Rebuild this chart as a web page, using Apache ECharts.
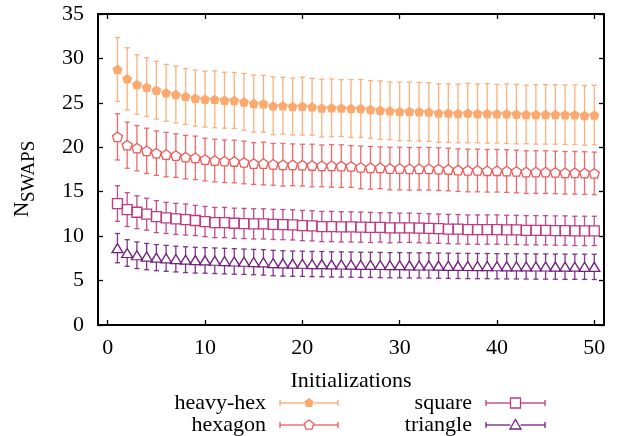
<!DOCTYPE html>
<html>
<head>
<meta charset="utf-8">
<script src="https://cdn.jsdelivr.net/npm/echarts@6/dist/echarts.min.js"></script>
<style>
  html, body { margin: 0; padding: 0; background: #fff; }
  #main { width: 624px; height: 436px; }
</style>
</head>
<body>
<div id="main"></div>
<script>
// 数据
var initializations = [1, 2, 3, 4, 5, 6, 7, 8, 9, 10, 11, 12, 13, 14, 15, 16, 17, 18, 19, 20,
  21, 22, 23, 24, 25, 26, 27, 28, 29, 30, 31, 32, 33, 34, 35, 36, 37, 38, 39, 40,
  41, 42, 43, 44, 45, 46, 47, 48, 49, 50];
var xTicks = [0, 10, 20, 30, 40, 50];

var heavyHex = [28.76, 27.70, 27.07, 26.77, 26.43, 26.13, 25.94, 25.72, 25.53, 25.42,
  25.40, 25.30, 25.27, 25.11, 24.93, 24.90, 24.66, 24.67, 24.59, 24.63,
  24.56, 24.41, 24.44, 24.41, 24.37, 24.37, 24.26, 24.18, 24.11, 24.03,
  24.03, 24.00, 23.96, 23.85, 23.85, 23.81, 23.85, 23.81, 23.81, 23.78,
  23.78, 23.74, 23.70, 23.70, 23.70, 23.70, 23.67, 23.67, 23.59, 23.63];
var heavyHexErr = [3.6, 3.5, 3.35, 3.3, 3.25, 3.2, 3.2, 3.15, 3.15, 3.15,
  3.2, 3.15, 3.15, 3.2, 3.2, 3.2, 3.25, 3.2, 3.2, 3.25,
  3.2, 3.25, 3.25, 3.2, 3.25, 3.25, 3.25, 3.3, 3.25, 3.3,
  3.3, 3.3, 3.3, 3.3, 3.3, 3.3, 3.35, 3.3, 3.35, 3.3,
  3.35, 3.35, 3.3, 3.35, 3.35, 3.35, 3.35, 3.35, 3.35, 3.35];

var hexagon = [21.17, 20.24, 19.90, 19.60, 19.34, 19.18, 19.07, 18.89, 18.81, 18.62,
  18.51, 18.43, 18.40, 18.29, 18.17, 18.17, 18.08, 18.03, 18.03, 17.99,
  17.95, 17.91, 17.91, 17.88, 17.84, 17.73, 17.69, 17.69, 17.61, 17.61,
  17.58, 17.58, 17.58, 17.54, 17.50, 17.43, 17.39, 17.39, 17.36, 17.36,
  17.32, 17.28, 17.21, 17.21, 17.21, 17.17, 17.13, 17.13, 17.10, 17.06];
var hexagonErr = [2.6, 2.6, 2.55, 2.55, 2.5, 2.5, 2.45, 2.45, 2.45, 2.4,
  2.4, 2.4, 2.4, 2.4, 2.35, 2.4, 2.35, 2.4, 2.35, 2.35,
  2.4, 2.35, 2.4, 2.4, 2.35, 2.4, 2.4, 2.35, 2.4, 2.4,
  2.4, 2.4, 2.4, 2.4, 2.4, 2.4, 2.4, 2.4, 2.4, 2.4,
  2.4, 2.4, 2.4, 2.4, 2.4, 2.4, 2.4, 2.4, 2.4, 2.4];

var square = [13.67, 12.99, 12.69, 12.47, 12.20, 12.05, 11.94, 11.87, 11.76, 11.64,
  11.53, 11.53, 11.45, 11.42, 11.38, 11.38, 11.32, 11.30, 11.27, 11.19,
  11.16, 11.08, 11.08, 11.04, 11.04, 11.01, 10.98, 10.98, 10.94, 10.94,
  10.94, 10.91, 10.87, 10.84, 10.80, 10.78, 10.74, 10.74, 10.74, 10.74,
  10.70, 10.70, 10.66, 10.66, 10.66, 10.63, 10.63, 10.59, 10.59, 10.59];
var squareErr = [2.0, 1.9, 1.85, 1.8, 1.8, 1.75, 1.75, 1.75, 1.7, 1.7,
  1.7, 1.7, 1.7, 1.7, 1.7, 1.7, 1.7, 1.7, 1.7, 1.7,
  1.7, 1.7, 1.7, 1.7, 1.7, 1.7, 1.7, 1.65, 1.7, 1.65,
  1.65, 1.65, 1.65, 1.65, 1.65, 1.65, 1.65, 1.65, 1.65, 1.65,
  1.65, 1.65, 1.65, 1.65, 1.65, 1.65, 1.65, 1.65, 1.65, 1.65];

var triangle = [8.65, 8.10, 7.85, 7.70, 7.58, 7.50, 7.42, 7.35, 7.30, 7.27,
  7.23, 7.19, 7.15, 7.12, 7.08, 7.05, 6.97, 6.93, 6.90, 6.89,
  6.86, 6.85, 6.82, 6.81, 6.80, 6.77, 6.77, 6.75, 6.73, 6.73,
  6.71, 6.70, 6.70, 6.68, 6.66, 6.65, 6.64, 6.63, 6.63, 6.61,
  6.60, 6.60, 6.59, 6.58, 6.58, 6.57, 6.56, 6.56, 6.55, 6.54];
var triangleErr = [1.65, 1.5, 1.5, 1.48, 1.47, 1.46, 1.45, 1.45, 1.45, 1.44,
  1.44, 1.44, 1.44, 1.43, 1.43, 1.43, 1.43, 1.43, 1.42, 1.42,
  1.42, 1.42, 1.42, 1.42, 1.42, 1.42, 1.42, 1.42, 1.42, 1.42,
  1.42, 1.42, 1.42, 1.42, 1.42, 1.42, 1.42, 1.42, 1.42, 1.42,
  1.42, 1.42, 1.42, 1.42, 1.42, 1.42, 1.42, 1.42, 1.42, 1.42];

var seriesNames = ['heavy-hex', 'hexagon', 'square', 'triangle'];
var colors = ['#fda96e', '#f05a5a', '#bf3a7f', '#72207f'];

var FONT = 'Liberation Serif';
var pentagonPath = 'path://M50 0L97.6 34.5L79.4 90.5L20.6 90.5L2.4 34.5Z';

// 误差棒 (custom series)
function errSeries(name, vals, errs, color, gap) {
  return {
    name: name,
    type: 'custom',
    xAxisIndex: 0,
    yAxisIndex: 0,
    z: 2,
    silent: true,
    encode: { x: 0, y: 1 },
    data: initializations.map(function (x, i) { return [x, vals[i], errs[i]]; }),
    renderItem: function (params, api) {
      var x = api.value(0), y = api.value(1), e = api.value(2);
      var p = api.coord([x, y]);
      var hi = api.coord([x, y + e]);
      var lo = api.coord([x, y - e]);
      var cw = 2.6;
      var st = { stroke: color, lineWidth: 1.3, opacity: 0.9 };
      return {
        type: 'group',
        children: [
          { type: 'line', shape: { x1: p[0], y1: hi[1], x2: p[0], y2: p[1] - gap }, style: st },
          { type: 'line', shape: { x1: p[0], y1: p[1] + gap, x2: p[0], y2: lo[1] }, style: st },
          { type: 'line', shape: { x1: p[0] - cw, y1: hi[1], x2: p[0] + cw, y2: hi[1] }, style: st },
          { type: 'line', shape: { x1: p[0] - cw, y1: lo[1], x2: p[0] + cw, y2: lo[1] }, style: st }
        ]
      };
    }
  };
}

function markSeries(name, vals, color, symbol, size, filled) {
  return {
    name: name,
    type: 'scatter',
    xAxisIndex: 0,
    yAxisIndex: 0,
    z: 3,
    silent: true,
    symbol: symbol,
    symbolSize: size,
    itemStyle: filled
      ? { color: color, borderWidth: 0, opacity: 1 }
      : { color: 'rgba(255,255,255,0)', borderColor: color, borderWidth: 1.3, opacity: 1 },
    data: initializations.map(function (x, i) { return [x, vals[i]]; })
  };
}

var myChart = echarts.init(document.getElementById('main'), null, { renderer: 'canvas' });

// 图例 (gnuplot 风格)
function legendItem(name, color, tx, x1, x2, y, marker) {
  var st = { stroke: color, lineWidth: 1.3 };
  var mx = (x1 + x2) / 2;
  var items = [
    { type: 'text', x: tx, y: y, style: { text: name, fontSize: 22, fontFamily: FONT, fill: '#000', textAlign: 'right', textVerticalAlign: 'middle' } },
    { type: 'line', shape: { x1: x1, y1: y, x2: mx - 5, y2: y }, style: st },
    { type: 'line', shape: { x1: mx + 5, y1: y, x2: x2, y2: y }, style: st },
    { type: 'line', shape: { x1: x1, y1: y - 3, x2: x1, y2: y + 3 }, style: st },
    { type: 'line', shape: { x1: x2, y1: y - 3, x2: x2, y2: y + 3 }, style: st }
  ];
  if (marker === 'pentFill' || marker === 'pent') {
    var pts = [[0, -5], [4.8, -1.5], [3, 4.1], [-3, 4.1], [-4.8, -1.5]].map(function (q) { return [mx + q[0], y + q[1]]; });
    items.push({ type: 'polygon', shape: { points: pts }, style: marker === 'pentFill' ? { fill: color } : { fill: 'none', stroke: color, lineWidth: 1.3 } });
  } else if (marker === 'rect') {
    items.push({ type: 'rect', shape: { x: mx - 5, y: y - 5, width: 10, height: 10 }, style: { fill: 'none', stroke: color, lineWidth: 1.3 } });
  } else {
    items.push({ type: 'polygon', shape: { points: [[mx, y - 5.5], [mx + 5.5, y + 4], [mx - 5.5, y + 4]] }, style: { fill: 'none', stroke: color, lineWidth: 1.3 } });
  }
  return items;
}

var legendEls = []
  .concat(legendItem(seriesNames[0], colors[0], 266, 280, 338, 403, 'pentFill'))
  .concat(legendItem(seriesNames[1], colors[1], 266, 280, 338, 425, 'pent'))
  .concat(legendItem(seriesNames[2], colors[2], 472, 486, 545, 403, 'rect'))
  .concat(legendItem(seriesNames[3], colors[3], 472, 486, 545, 425, 'tri'));

var axisLineStyle = { color: '#000', width: 2 };
var tickStyle = { color: '#000', width: 1.3 };

var option = {
  animation: false,
  backgroundColor: '#fff',
  grid: { left: 98, right: 20, top: 14, bottom: 111, containLabel: false, outerBoundsMode: 'none', show: false },
  xAxis: [
    {
      type: 'value', position: 'bottom', min: -1, max: 51,
      axisLine: { show: true, onZero: false, lineStyle: axisLineStyle },
      axisTick: { show: true, inside: true, length: 5, customValues: xTicks, lineStyle: tickStyle },
      axisLabel: { customValues: xTicks, fontSize: 22, fontFamily: FONT, color: '#000', margin: 12 },
      splitLine: { show: false },
      name: 'Initializations', nameLocation: 'middle', nameGap: 45,
      nameTextStyle: { fontSize: 22, fontFamily: FONT, color: '#000' }
    },
    {
      type: 'value', position: 'top', min: -1, max: 51,
      axisLine: { show: true, onZero: false, lineStyle: axisLineStyle },
      axisTick: { show: true, inside: true, length: 5, customValues: xTicks, lineStyle: tickStyle },
      axisLabel: { show: false },
      splitLine: { show: false }
    }
  ],
  yAxis: [
    {
      type: 'value', position: 'left', min: 0, max: 35, interval: 5,
      axisLine: { show: true, onZero: false, lineStyle: axisLineStyle },
      axisTick: { show: true, inside: true, length: 5, lineStyle: tickStyle },
      axisLabel: { fontSize: 22, fontFamily: FONT, color: '#000', margin: 14 },
      splitLine: { show: false }
    },
    {
      type: 'value', position: 'right', min: 0, max: 35, interval: 5,
      axisLine: { show: true, onZero: false, lineStyle: axisLineStyle },
      axisTick: { show: true, inside: true, length: 5, lineStyle: tickStyle },
      axisLabel: { show: false },
      splitLine: { show: false }
    }
  ],
  graphic: [
    {
      type: 'group', x: 22, y: 217, rotation: Math.PI / 2,
      children: [
        { type: 'text', x: 0, y: 0, style: { text: 'N', fontSize: 21, fontFamily: FONT, fill: '#000', textAlign: 'left', textVerticalAlign: 'middle' } },
        { type: 'text', x: 15, y: 7, style: { text: 'SWAPS', fontSize: 19, fontFamily: FONT, fill: '#000', textAlign: 'left', textVerticalAlign: 'middle' } }
      ]
    }
  ].concat(legendEls),
  series: [
    errSeries(seriesNames[0], heavyHex, heavyHexErr, colors[0], 0),
    errSeries(seriesNames[1], hexagon, hexagonErr, colors[1], 4.6),
    errSeries(seriesNames[2], square, squareErr, colors[2], 5),
    errSeries(seriesNames[3], triangle, triangleErr, colors[3], 4.5),
    markSeries(seriesNames[0], heavyHex, colors[0], pentagonPath, [10, 9.5], true),
    markSeries(seriesNames[1], hexagon, colors[1], pentagonPath, [10, 9.5], false),
    markSeries(seriesNames[2], square, colors[2], 'rect', [10, 10], false),
    markSeries(seriesNames[3], triangle, colors[3], 'triangle', [11, 9], false)
  ]
};

myChart.setOption(option);
</script>
</body>
</html>
